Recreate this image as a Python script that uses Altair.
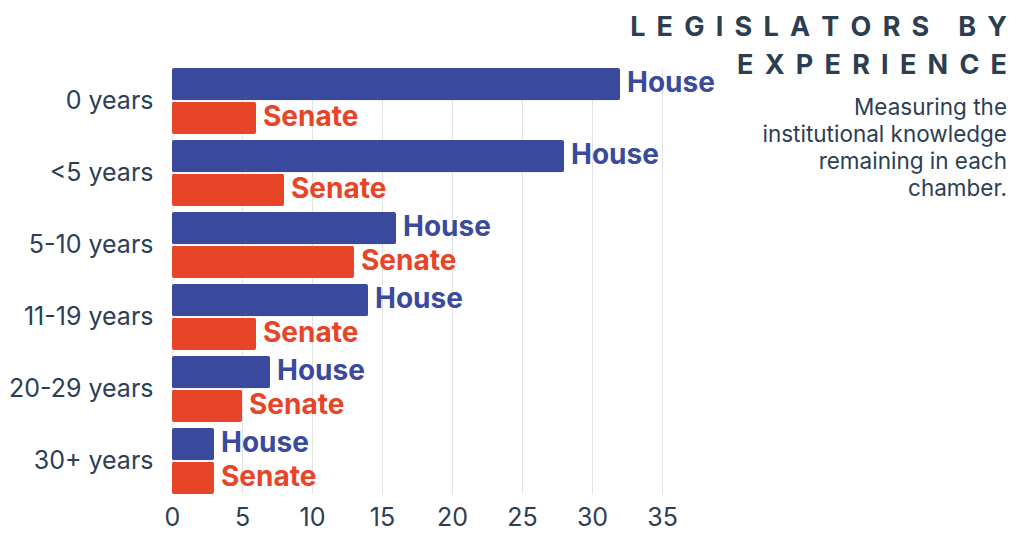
import altair as alt
import pandas as pd

categories = ["0 years", "<5 years", "5-10 years", "11-19 years", "20-29 years", "30+ years"]
house = [32, 28, 16, 14, 7, 3]
senate = [6, 8, 13, 6, 5, 3]
chambers = ["House", "Senate"]
colors = ["#3a4a9e", "#e84427"]
x_ticks = [0, 5, 10, 15, 20, 25, 30, 35]
title_lines = ["LEGISLATORS BY", "EXPERIENCE"]
subtitle_lines = ["Measuring the", "institutional knowledge", "remaining in each", "chamber."]

rows = []
for c, h, s in zip(categories, house, senate):
    rows.append({"Experience": c, "Chamber": "House", "Legislators": h})
    rows.append({"Experience": c, "Chamber": "Senate", "Legislators": s})
df = pd.DataFrame(rows)

GAP = "\u2005\u2006"


def spaced(line):
    words = line.split(" ")
    return (GAP + " " + GAP).join(GAP.join(list(w)) for w in words)


TEXT = "#2c3e55"
W, H = 490, 426

y_enc = alt.Y("Experience:N", sort=categories, title=None,
              scale=alt.Scale(paddingInner=0.083, paddingOuter=0),
              axis=alt.Axis(domain=False, ticks=False, labelPadding=19))
yoff_enc = alt.YOffset("Chamber:N", sort=chambers,
                       scale=alt.Scale(paddingInner=0.05, paddingOuter=0))
color_enc = alt.Color("Chamber:N", scale=alt.Scale(domain=chambers, range=colors), legend=None)
x_enc = alt.X("Legislators:Q", title=None,
              scale=alt.Scale(domain=[0, 35], nice=False),
              axis=alt.Axis(values=x_ticks, domain=False, ticks=False, grid=True,
                            gridColor="#e2e2e2", labelPadding=11, labelFlush=False))

base = alt.Chart(df)
bars = base.mark_bar(cornerRadius=2).encode(x=x_enc, y=y_enc, yOffset=yoff_enc, color=color_enc)
labels = base.mark_text(align="left", baseline="middle", dx=7, fontSize=28,
                        fontWeight="bold", font="Inter").encode(
    x="Legislators:Q", y=alt.Y("Experience:N", sort=categories), yOffset=yoff_enc,
    text="Chamber:N", color=color_enc)

sub = alt.Chart(pd.DataFrame({"t": ["\n".join(subtitle_lines)]})).mark_text(
    align="right", baseline="top", lineBreak="\n", lineHeight=27, fontSize=22.5,
    font="Inter", color=TEXT).encode(x=alt.value(835), y=alt.value(29), text="t:N")

chart = alt.layer(bars, labels, sub).properties(
    width=W, height=H,
    padding={"left": 0, "top": 5, "right": 0, "bottom": 5},
    title=alt.TitleParams(
        text=[spaced(t) for t in title_lines], anchor="end", frame="group", dx=345,
        fontSize=27, font="Inter", fontWeight="bold", color="#2c3e50",
        lineHeight=38, offset=-12),
).configure_view(stroke=None).configure_axis(
    labelFont="Inter", labelFontSize=25, labelColor=TEXT,
)

chart.save("out.html", embed_options={"renderer": "svg", "actions": False})
